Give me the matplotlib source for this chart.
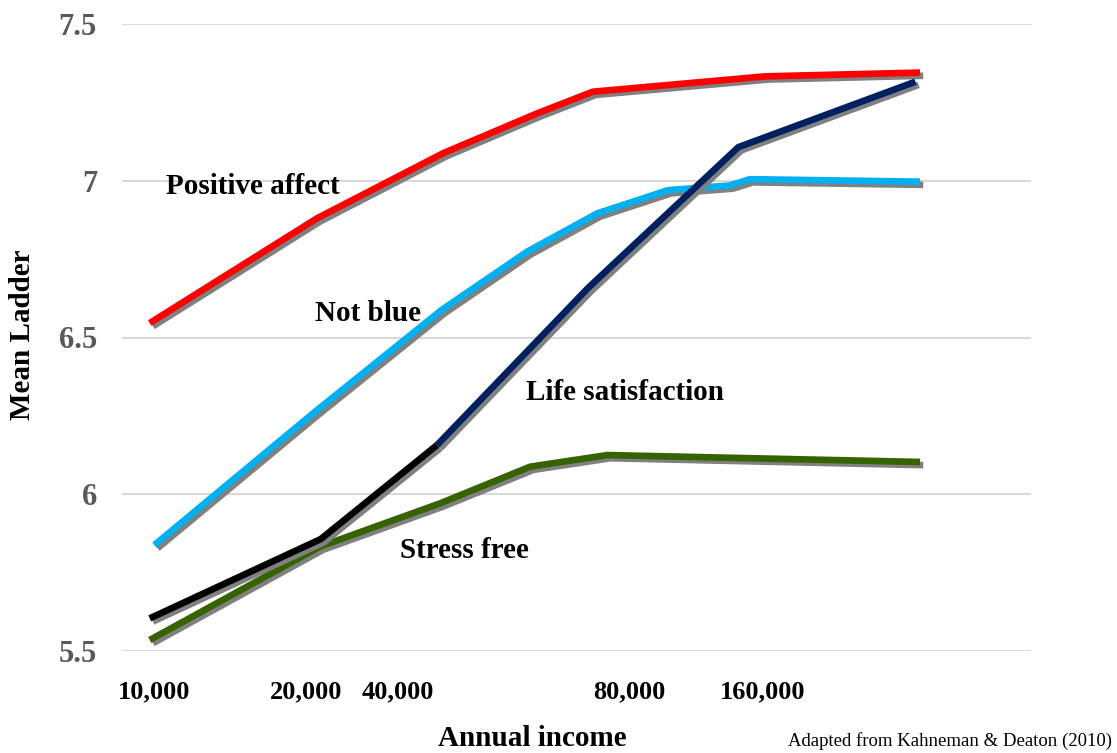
import matplotlib
matplotlib.use('Agg')
import matplotlib.pyplot as plt
import matplotlib.patheffects as pe

# Income axis positions (arbitrary units along the x axis, 10,000 at 0)
tick_pos = [0.5, 20.3, 32.2, 62.3, 79.6]
tick_labels = ["10,000", "20,000", "40,000", "80,000", "160,000"]

# Positive affect
pos_x = [0, 21.7, 38.1, 50.3, 57.5, 79.9, 100]
pos_y = [6.546, 6.880, 7.088, 7.215, 7.284, 7.333, 7.345]

# Not blue
blue_x = [0.6, 21.2, 37.9, 49.0, 58.1, 67.3, 75.3, 77.9, 100]
blue_y = [5.838, 6.258, 6.588, 6.774, 6.896, 6.970, 6.985, 7.005, 6.997]

# Life satisfaction (black part up to index 2, navy after)
life_x = [0, 22.2, 37.3, 56.9, 76.4, 99.4]
life_y = [5.604, 5.857, 6.157, 6.658, 7.107, 7.316]
life_split = 2

# Stress free
stress_x = [0, 22.1, 37.7, 49.4, 59.4, 100]
stress_y = [5.535, 5.833, 5.971, 6.088, 6.125, 6.103]

plt.rcParams['font.family'] = ['Liberation Serif', 'DejaVu Serif']

fig = plt.figure(figsize=(11.17, 7.53), dpi=100)
ax = fig.add_axes([122 / 1117, 1 - 651 / 753, (1031 - 122) / 1117, (651 - 24) / 753])

lw = 4.8
shadow = [pe.SimpleLineShadow(offset=(2.3, -2.3), shadow_color='#808080', alpha=1.0),
          pe.Normal()]

def draw(x, y, color, z):
    ax.plot(x, y, color=color, lw=lw, solid_capstyle='butt', solid_joinstyle='miter',
            path_effects=shadow, zorder=z)

draw(stress_x, stress_y, '#376200', 3)
draw(blue_x, blue_y, '#00B0F0', 4)
draw(pos_x, pos_y, '#FF0000', 5)
draw(life_x[:life_split + 1], life_y[:life_split + 1], '#000000', 6)
draw(life_x[life_split:], life_y[life_split:], '#002060', 7)

ax.set_xlim(-3.6, 114.4)
ax.set_ylim(5.5, 7.5)
ax.set_yticks([5.5, 6, 6.5, 7, 7.5])
ax.set_yticklabels(["5.5", "6", "6.5", "7", "7.5"])
ax.set_xticks(tick_pos)
ax.set_xticklabels(tick_labels)
ax.grid(axis='y', color='#d9d9d9', lw=1.5, zorder=0)
ax.set_axisbelow(True)
for s in ax.spines.values():
    s.set_visible(False)
ax.tick_params(axis='y', length=0, pad=18, labelsize=22, labelcolor='#595959')
ax.tick_params(axis='x', length=0, pad=21, labelsize=19, labelcolor='black')
for lab in ax.get_xticklabels() + ax.get_yticklabels():
    lab.set_fontweight('bold')

# Series labels
lab_kw = dict(fontsize=21, fontweight='bold', ha='center', va='center', color='black')
ax.text(13.4, 6.983, "Positive affect", **lab_kw)
ax.text(28.3, 6.578, "Not blue", **lab_kw)
ax.text(61.7, 6.323, "Life satisfaction", **lab_kw)
ax.text(40.8, 5.819, "Stress free", **lab_kw)

fig.text(532 / 1117, 1 - 738 / 753, "Annual income", fontsize=21, fontweight='bold',
         ha='center', va='center')
fig.text(23 / 1117, 1 - 335 / 753, "Mean Ladder", fontsize=21, fontweight='bold',
         ha='center', va='center', rotation=90)
fig.text(1112 / 1117, 1 - 741 / 753, "Adapted from Kahneman & Deaton (2010)",
         fontsize=13.5, ha='right', va='center')

fig.savefig("out.png", dpi=100)
